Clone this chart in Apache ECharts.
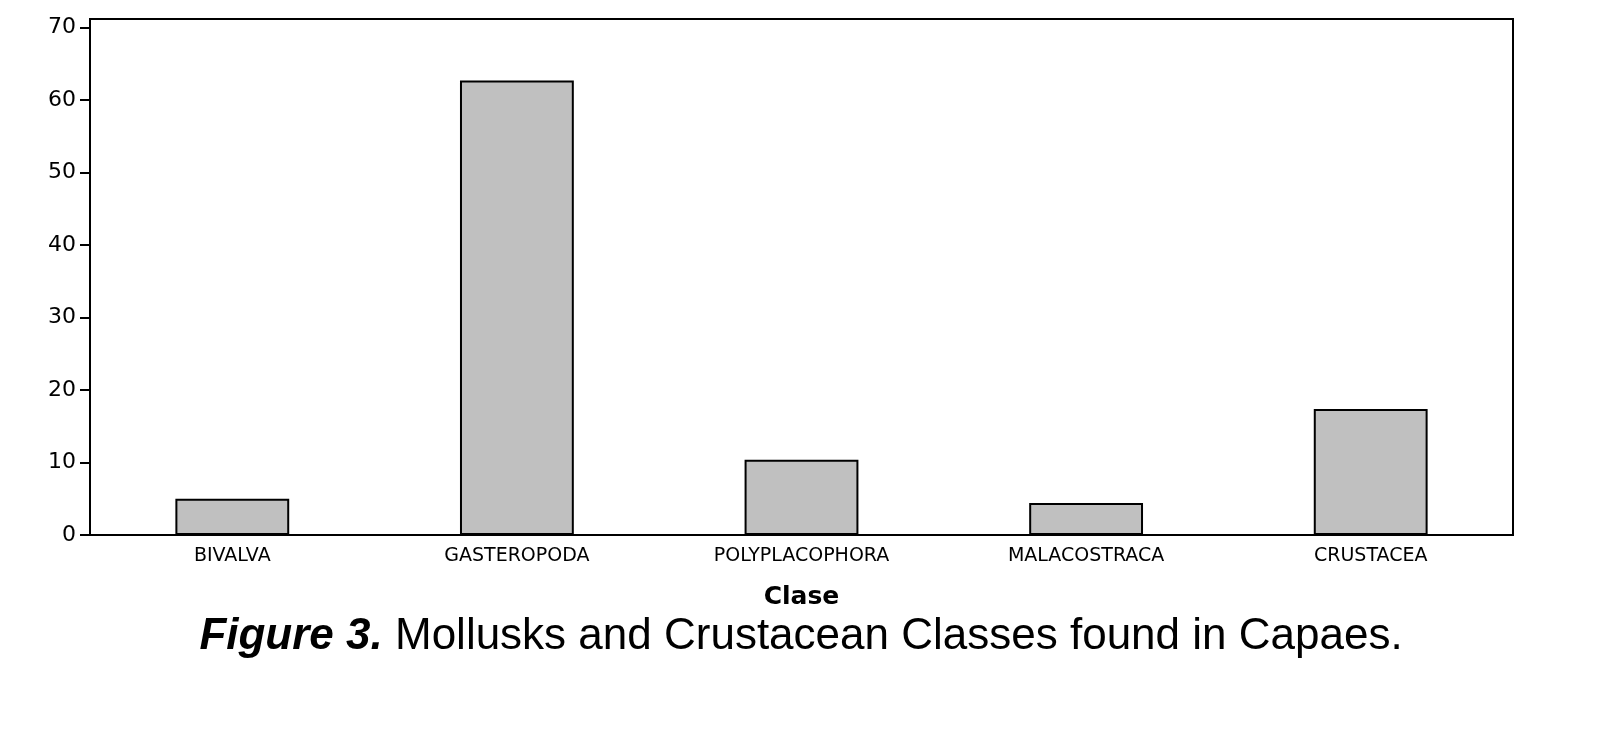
<!DOCTYPE html>
<html><head><meta charset="utf-8">
<script src="https://cdn.jsdelivr.net/npm/echarts@6/dist/echarts.min.js"></script>
<style>html,body{margin:0;background:#fff}#c{width:1602px;height:754px}</style>
</head><body><div id="c"></div>
<script>
const categories = ['BIVALVA','GASTEROPODA','POLYPLACOPHORA','MALACOSTRACA','CRUSTACEA'];
const values = [5.0, 62.7, 10.4, 4.4, 17.4];
const yTicks = [0,10,20,30,40,50,60,70];
const chart = echarts.init(document.getElementById('c'));
chart.setOption({
  animation:false,
  grid:{left:90,right:89,top:19,bottom:219,show:true,borderColor:'#000',borderWidth:2},
  xAxis:{type:'category',data:categories,name:'Clase',nameLocation:'middle',nameGap:50,
    nameTextStyle:{fontFamily:'DejaVu Sans',fontWeight:'bold',fontSize:25,color:'#000'},
    axisLine:{lineStyle:{color:'#000',width:2}},
    axisTick:{alignWithLabel:true,length:6,lineStyle:{color:'#000',width:2}},
    axisLabel:{fontFamily:'DejaVu Sans',fontSize:19,color:'#000',margin:12}},
  yAxis:{type:'value',min:0,max:71.2,interval:10,splitLine:{show:false},
    axisLine:{show:true,lineStyle:{color:'#000',width:2}},
    axisTick:{show:true,length:10,lineStyle:{color:'#000',width:2},
      customValues:yTicks},
    axisLabel:{fontFamily:'DejaVu Sans',fontSize:22,color:'#000',margin:14,
      customValues:yTicks}},
  series:[{type:'bar',data:values,barWidth:'40%',
    itemStyle:{color:'#c0c0c0',borderColor:'#000',borderWidth:2}}],
  graphic:[{type:'text',left:'center',top:615,style:{
    rich:{b:{fontFamily:'Liberation Sans',fontStyle:'italic',fontWeight:'bold',fontSize:44,fill:'#000'},
          n:{fontFamily:'Liberation Sans',fontSize:44,fill:'#000'}},
    text:'{b|Figure 3.}{n| Mollusks and Crustacean Classes found in Capaes.}'}}]
});
</script></body></html>
